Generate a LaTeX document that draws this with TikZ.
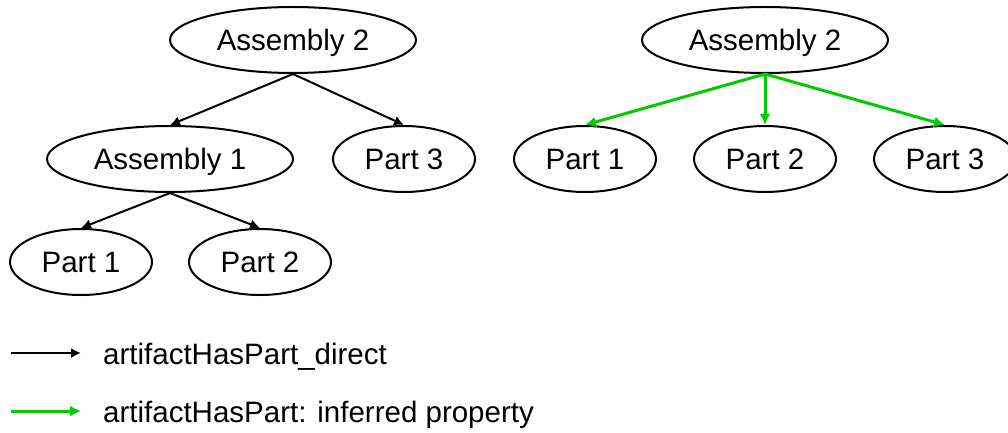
\documentclass[tikz,border=0pt]{standalone}
\usepackage{fontspec}
\setmainfont{Liberation Sans}
\usetikzlibrary{shapes.geometric,arrows.meta}
\definecolor{inferredgreen}{RGB}{0,204,0}
\begin{document}
\begin{tikzpicture}[x=1pt,y=-1pt,
  part/.style={ellipse,draw,line width=2pt,inner sep=0pt,
    minimum width=142pt,minimum height=66pt,
    font=\fontsize{29.5}{34}\selectfont,text height=21pt,text depth=0pt},
  assembly/.style={part,minimum width=246pt},
  direct/.style={line width=2pt,-{Latex[length=10pt,width=10pt]}},
  inferred/.style={draw=inferredgreen,line width=3pt,
    -{Latex[length=11pt,width=11pt]}},
  legendtext/.style={anchor=base west,inner sep=0pt,
    font=\fontsize{29.5}{34}\selectfont}]
\useasboundingbox (0,0) rectangle (1008,433);

% direct part-of hierarchy
\node[assembly] (la2) at (293,40)  {Assembly 2};
\node[assembly] (la1) at (170,159) {Assembly 1};
\node[part]     (lp3) at (404,159) {Part 3};
\node[part]     (lp1) at (81,262)  {Part 1};
\node[part]     (lp2) at (260,262) {Part 2};
\draw[direct] (la2.south) -- (la1.north);
\draw[direct] (la2.south) -- (lp3.north);
\draw[direct] (la1.south) -- (lp1.north);
\draw[direct] (la1.south) -- (lp2.north);

% inferred part-of relation
\node[assembly] (ra2) at (765,40)  {Assembly 2};
\node[part]     (rp1) at (585,159) {Part 1};
\node[part]     (rp2) at (765,159) {Part 2};
\node[part]     (rp3) at (945,159) {Part 3};
\draw[inferred] (ra2.south) -- (rp1.north);
\draw[inferred] (ra2.south) -- (rp2.north);
\draw[inferred] (ra2.south) -- (rp3.north);

% legend
\coordinate (k1s) at (11,353);
\coordinate (k1e) at (81,353);
\coordinate (k2s) at (11,411);
\coordinate (k2e) at (81,411);
\draw[direct] (k1s) -- (k1e);
\draw[inferred] (k2s) -- (k2e);
\node[legendtext] (k1t) at (103,364) {artifactHasPart\_direct};
\node[legendtext] (k2t) at (103,422) {artifactHasPart: inferred property};
\end{tikzpicture}
\end{document}
